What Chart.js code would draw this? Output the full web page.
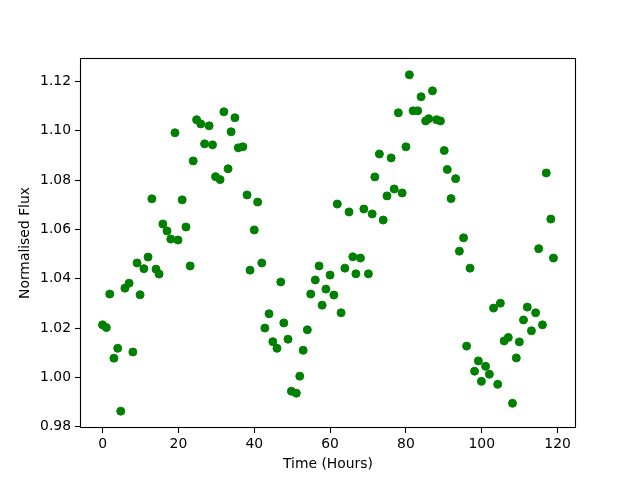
<!DOCTYPE html>
<html>
<head>
<meta charset="utf-8">
<script src="https://cdn.jsdelivr.net/npm/chart.js@4/dist/chart.umd.min.js"></script>
<style>
  html, body { margin: 0; padding: 0; background: #ffffff; }
  canvas { display: block; }
</style>
</head>
<body>
<canvas id="c" width="640" height="480"></canvas>
<script>
// ---- Data ----
const times = [0.0,1.0,1.9,3.0,4.0,4.8,5.9,7.0,8.0,9.1,9.9,10.9,12.0,13.0,14.1,14.9,15.9,17.0,18.0,19.1,
  19.9,21.0,22.0,23.1,23.9,24.8,25.9,26.9,28.1,29.0,29.8,31.0,32.0,33.1,33.9,34.9,35.8,37.0,38.1,38.9,
  40.0,40.9,42.0,42.8,43.9,44.9,46.0,47.0,47.8,48.9,49.8,51.1,52.0,52.9,54.0,54.9,56.1,57.1,57.9,58.9,
  60.0,61.0,61.9,62.9,63.9,65.0,66.0,66.8,68.0,68.9,70.1,71.1,71.8,73.0,74.0,75.0,76.1,76.9,78.0,79.0,
  80.0,80.9,81.9,83.1,84.0,85.2,86.0,87.0,88.1,89.1,90.1,90.9,91.9,93.1,94.1,95.2,96.0,96.9,98.1,99.1,
  99.9,101.0,102.0,103.1,104.2,104.9,105.9,107.0,108.1,109.1,109.9,111.0,112.0,113.1,114.2,115.0,116.0,117.0,118.2,118.9];

const flux = [1.0213,1.0202,1.0338,1.0078,1.0118,0.9863,1.0362,1.0382,1.0103,1.0464,1.0335,1.0441,1.0488,1.0724,1.0439,1.0419,1.0622,1.0594,1.0561,1.0992,
  1.0557,1.0720,1.0610,1.0452,1.0878,1.1045,1.1028,1.0947,1.1020,1.0943,1.0814,1.0802,1.1077,1.0846,1.0996,1.1053,1.0931,1.0935,1.0740,1.0435,
  1.0598,1.0711,1.0464,1.0200,1.0258,1.0145,1.0118,1.0387,1.0221,1.0155,0.9944,0.9936,1.0005,1.0110,1.0193,1.0338,1.0395,1.0452,1.0293,1.0358,
  1.0415,1.0334,1.0703,1.0262,1.0443,1.0671,1.0489,1.0420,1.0484,1.0683,1.0420,1.0663,1.0813,1.0906,1.0638,1.0736,1.0890,1.0764,1.1073,1.0748,
  1.0935,1.1227,1.1081,1.1081,1.1138,1.1040,1.1049,1.1162,1.1045,1.1040,1.0920,1.0843,1.0725,1.0806,1.0512,1.0566,1.0127,1.0443,1.0025,1.0067,
  0.9984,1.0045,1.0013,1.0281,0.9972,1.0301,1.0148,1.0162,0.9895,1.0079,1.0144,1.0233,1.0285,1.0189,1.0262,1.0522,1.0213,1.0829,1.0642,1.0484];

const xTicks = [0, 20, 40, 60, 80, 100, 120];
const yTicks = [0.98, 1.00, 1.02, 1.04, 1.06, 1.08, 1.10, 1.12];

const xLabel = 'Time (Hours)';
const yLabel = 'Normalised Flux';

// ---- Axis ranges with matplotlib-like 5% margins ----
function withMargin(arr) {
  const mn = Math.min(...arr), mx = Math.max(...arr);
  const m = (mx - mn) * 0.05;
  return [mn - m, mx + m];
}
const [xMin, xMax] = withMargin(times);
const [yMin, yMax] = withMargin(flux);

const points = times.map((t, i) => ({ x: t, y: flux[i] }));

const FONT = { family: '"DejaVu Sans", sans-serif', size: 13.9 };

const frame = {
  id: 'frame',
  afterDraw(chart) {
    const { ctx, chartArea: a } = chart;
    ctx.save();
    ctx.strokeStyle = '#000';
    ctx.lineWidth = 1.1;
    ctx.strokeRect(Math.round(a.left) + 0.5, Math.round(a.top) + 0.5,
                   Math.round(a.right - a.left) - 1, Math.round(a.bottom - a.top) - 1);
    ctx.restore();
  }
};

new Chart(document.getElementById('c'), {
  type: 'scatter',
  data: {
    datasets: [{
      data: points,
      backgroundColor: '#008000',
      borderColor: '#008000',
      borderWidth: 1,
      pointRadius: 4,
      pointHoverRadius: 4
    }]
  },
  options: {
    responsive: false,
    animation: false,
    devicePixelRatio: 1,
    layout: { padding: { left: 0, right: 64, top: 58, bottom: 0 } },
    plugins: { legend: { display: false }, tooltip: { enabled: false } },
    scales: {
      x: {
        type: 'linear',
        min: xMin,
        max: xMax,
        afterBuildTicks: s => { s.ticks = xTicks.map(v => ({ value: v })); },
        afterFit: s => { s.height = 52; },
        grid: { display: true, drawOnChartArea: false, drawTicks: true, tickLength: 5, tickColor: '#000', tickWidth: 1.1 },
        border: { display: false },
        ticks: { color: '#000', font: FONT, padding: 3, maxRotation: 0, autoSkip: false,
                 callback: v => String(v) },
        title: { display: true, text: xLabel, color: '#000', font: FONT, padding: { top: 0, bottom: 7.5 } }
      },
      y: {
        type: 'linear',
        min: yMin,
        max: yMax,
        afterBuildTicks: s => { s.ticks = yTicks.map(v => ({ value: v })); },
        afterFit: s => { s.width = 80; },
        grid: { display: true, drawOnChartArea: false, drawTicks: true, tickLength: 5, tickColor: '#000', tickWidth: 1.1 },
        border: { display: false },
        ticks: { color: '#000', font: FONT, padding: 4, autoSkip: false,
                 callback: v => Number(v).toFixed(2) },
        title: { display: true, text: yLabel, color: '#000', font: FONT, padding: { top: 17, bottom: 0 } }
      }
    }
  },
  plugins: [frame]
});
</script>
</body>
</html>
